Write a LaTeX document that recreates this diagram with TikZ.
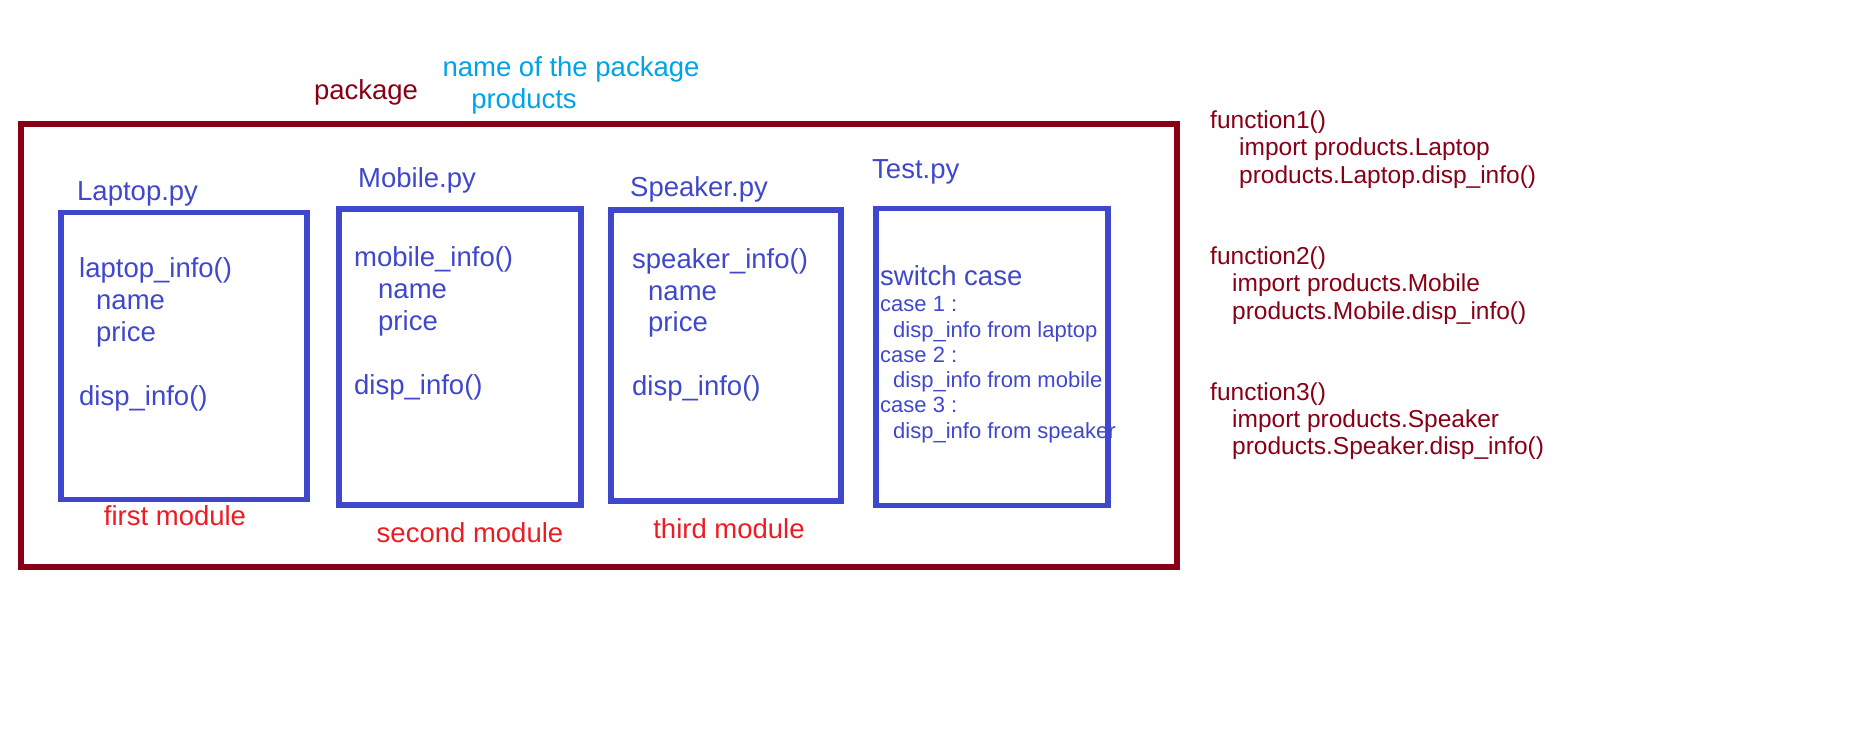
\documentclass[tikz,border=0pt]{standalone}
\usepackage{fontspec}
\setmainfont{Liberation Sans}
\definecolor{pkgred}{HTML}{880015}
\definecolor{modblue}{HTML}{3F48CC}
\definecolor{labred}{HTML}{ED1C24}
\definecolor{pkgcyan}{HTML}{00A2E8}
\tikzset{
  txt/.style={inner sep=0pt, text height=0.72em, text depth=0.21em, yshift=-7pt},
  big/.style={txt, font=\fontsize{27.5}{33}\selectfont},
  small/.style={txt, font=\fontsize{22}{26}\selectfont},
  fn/.style={txt, font=\fontsize{24.5}{29}\selectfont, text=pkgred, anchor=west},
  code/.style={big, text=modblue, anchor=west},
  casetxt/.style={small, text=modblue, anchor=west},
  modlabel/.style={big, text=labred},
  modbox/.style={draw=modblue, line width=5.5pt, inner sep=0pt},
  pkgbox/.style={draw=pkgred, line width=5.5pt, inner sep=0pt},
}
\begin{document}
\begin{tikzpicture}[x=1pt,y=-1pt]
\useasboundingbox (0,0) rectangle (1852,743);
% package frame
\node[pkgbox, minimum width=1156pt, minimum height=443pt] (pkg) at (599,345.5) {};
\node[big, text=pkgred] (pkglabel) at (366,90) {package};
\node[big, text=pkgcyan] (pkgname1) at (571,67) {name of the package};
\node[big, text=pkgcyan] (pkgname2) at (524,99) {products};

% Laptop module
\node[modbox, minimum width=246pt, minimum height=287pt] (lap) at (184,356) {};
\node[code] (laptitle) at (77,191) {Laptop.py};
\node[code] (lap1) at (79,268) {laptop\_info()};
\node[code] (lap2) at (96,300) {name};
\node[code] (lap3) at (96,332) {price};
\node[code] (lap4) at (79,396) {disp\_info()};
\node[modlabel] (lapmod) at (175,516) {first module};

% Mobile module
\node[modbox, minimum width=242pt, minimum height=296pt] (mob) at (460,357) {};
\node[code] (mobtitle) at (358,178) {Mobile.py};
\node[code] (mob1) at (354,257) {mobile\_info()};
\node[code] (mob2) at (378,289) {name};
\node[code] (mob3) at (378,321) {price};
\node[code] (mob4) at (354,385) {disp\_info()};
\node[modlabel] (mobmod) at (470,533) {second module};

% Speaker module
\node[modbox, minimum width=230pt, minimum height=291pt] (spk) at (726,355.5) {};
\node[code] (spktitle) at (630,187) {Speaker.py};
\node[code] (spk1) at (632,259) {speaker\_info()};
\node[code] (spk2) at (648,291) {name};
\node[code] (spk3) at (648,322) {price};
\node[code] (spk4) at (632,386) {disp\_info()};
\node[modlabel] (spkmod) at (729,529) {third module};

% Test module
\node[modbox, minimum width=232pt, minimum height=297pt] (tst) at (992,357) {};
\node[code] (tsttitle) at (872,169) {Test.py};
\node[code] (sw) at (880,276) {switch case};
\node[casetxt] (c1) at (880,302) {case 1 :};
\node[casetxt] (c1b) at (893,328) {disp\_info from laptop};
\node[casetxt] (c2) at (880,353) {case 2 :};
\node[casetxt] (c2b) at (893,378) {disp\_info from mobile};
\node[casetxt] (c3) at (880,403) {case 3 :};
\node[casetxt] (c3b) at (893,429) {disp\_info from speaker};

% functions
\node[fn] (f1) at (1210,119) {function1()};
\node[fn] (f1a) at (1239,145.5) {import products.Laptop};
\node[fn] (f1b) at (1239,173.5) {products.Laptop.disp\_info()};
\node[fn] (f2) at (1210,255) {function2()};
\node[fn] (f2a) at (1232,282) {import products.Mobile};
\node[fn] (f2b) at (1232,309.5) {products.Mobile.disp\_info()};
\node[fn] (f3) at (1210,391) {function3()};
\node[fn] (f3a) at (1232,418) {import products.Speaker};
\node[fn] (f3b) at (1232,445) {products.Speaker.disp\_info()};
\end{tikzpicture}
\end{document}
